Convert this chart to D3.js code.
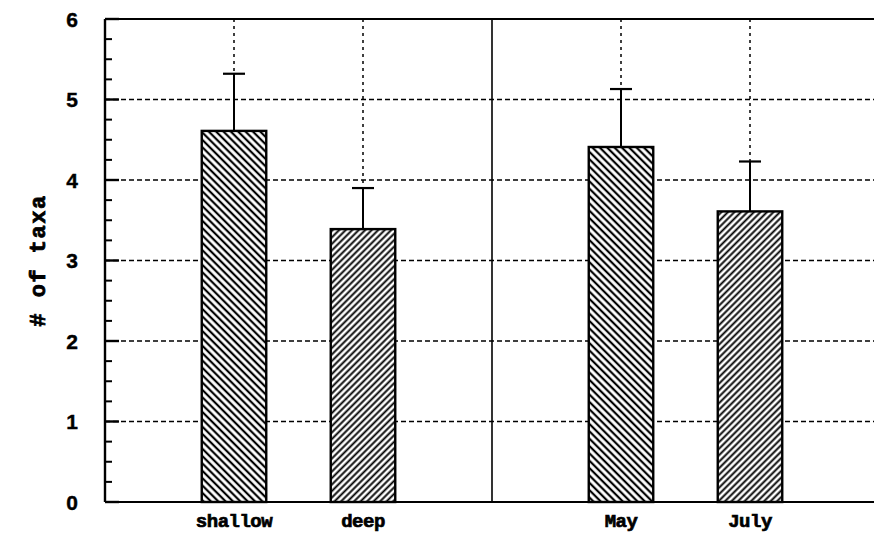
<!DOCTYPE html>
<html><head><meta charset="utf-8">
<script src="https://cdn.jsdelivr.net/npm/d3@7"></script>
<style>body{margin:0;background:#fff}</style>
</head><body>
<svg id="c" width="874" height="533"></svg>
<script>
const categories = ["shallow", "deep", "May", "July"];
const positions = [1, 2, 4, 5];
const means = [4.61, 3.39, 4.41, 3.61];
const errTops = [5.32, 3.90, 5.13, 4.23];
const hatchDir = ["back", "fwd", "back", "fwd"];
const yTicks = [0, 1, 2, 3, 4, 5, 6];
const dividerPos = [3];

const svg = d3.select("#c");
const L = 105, T = 19, B = 502, R = 879;
const x = d3.scaleLinear().domain([0, 6]).range([L, R]);
const y = d3.scaleLinear().domain([0, 6]).range([B, T]);

const defs = svg.append("defs");
function hatch(id, angle, period, sw) {
  const p = defs.append("pattern").attr("id", id).attr("patternUnits", "userSpaceOnUse")
    .attr("width", period).attr("height", period).attr("patternTransform", `rotate(${angle})`);
  p.append("rect").attr("width", period).attr("height", period).attr("fill", "#fff");
  p.append("line").attr("x1", period/2).attr("x2", period/2).attr("y1", 0).attr("y2", period)
    .attr("stroke", "#000").attr("stroke-width", sw);
}
hatch("back", -45, 5.2, 2.2);
hatch("fwd", 45, 4.6, 1.9);

// horizontal grid
svg.append("g").selectAll("line").data(yTicks.filter(d => d > 0 && d < 6)).join("line")
  .attr("x1", L).attr("x2", 874).attr("y1", d => y(d)).attr("y2", d => y(d))
  .attr("stroke", "#000").attr("stroke-width", 1.7).attr("stroke-dasharray", "5,3");
// vertical grid
svg.append("g").selectAll("line").data(positions).join("line")
  .attr("x1", d => x(d)).attr("x2", d => x(d)).attr("y1", T).attr("y2", B)
  .attr("stroke", "#000").attr("stroke-width", 1.5).attr("stroke-dasharray", "3,4");

// divider
svg.append("g").selectAll("line").data(dividerPos).join("line")
  .attr("x1", d => x(d)).attr("x2", d => x(d)).attr("y1", T).attr("y2", B)
  .attr("stroke", "#000").attr("stroke-width", 1.6);

// error bars
const eb = svg.append("g");
eb.selectAll("line.v").data(categories).join("line").attr("class", "v")
  .attr("x1", (d, i) => x(positions[i])).attr("x2", (d, i) => x(positions[i]))
  .attr("y1", (d, i) => y(means[i])).attr("y2", (d, i) => y(errTops[i]))
  .attr("stroke", "#000").attr("stroke-width", 2);
eb.selectAll("line.c").data(categories).join("line").attr("class", "c")
  .attr("x1", (d, i) => x(positions[i]) - 11).attr("x2", (d, i) => x(positions[i]) + 11)
  .attr("y1", (d, i) => y(errTops[i])).attr("y2", (d, i) => y(errTops[i]))
  .attr("stroke", "#000").attr("stroke-width", 2.2);

// bars
const bw = (x(1) - x(0)) * 0.5;
svg.append("g").selectAll("rect").data(categories).join("rect")
  .attr("x", (d, i) => x(positions[i]) - bw/2).attr("width", bw)
  .attr("y", (d, i) => y(means[i])).attr("height", (d, i) => y(0) - y(means[i]))
  .attr("fill", (d, i) => `url(#${hatchDir[i]})`).attr("stroke", "#000").attr("stroke-width", 2.4);

// frame: left axis, top, bottom
svg.append("line").attr("x1", L).attr("x2", L).attr("y1", T).attr("y2", B).attr("stroke", "#000").attr("stroke-width", 2.4);
svg.append("line").attr("x1", L).attr("x2", 874).attr("y1", T).attr("y2", T).attr("stroke", "#000").attr("stroke-width", 2.2);
svg.append("line").attr("x1", L).attr("x2", 874).attr("y1", B).attr("y2", B).attr("stroke", "#000").attr("stroke-width", 2.2);

// minor ticks (inside)
const minor = d3.range(0, 6.001, 0.25).filter(v => Math.abs(v - Math.round(v)) > 0.01);
svg.append("g").selectAll("line").data(minor).join("line")
  .attr("x1", L).attr("x2", L + 7).attr("y1", d => y(d)).attr("y2", d => y(d))
  .attr("stroke", "#000").attr("stroke-width", 2);
svg.append("g").selectAll("line").data(yTicks).join("line")
  .attr("x1", L).attr("x2", L + 14).attr("y1", d => y(d)).attr("y2", d => y(d))
  .attr("stroke", "#000").attr("stroke-width", 2.4);

// y tick labels
svg.append("g").selectAll("text").data(yTicks).join("text")
  .attr("x", 78).attr("y", d => y(d)).attr("dy", "0.36em").attr("text-anchor", "end")
  .attr("font-family", "Liberation Sans, Arial, sans-serif").attr("font-weight", "bold")
  .attr("font-size", 21).attr("stroke", "#000").attr("stroke-width", 0.4).text(d => d);

// category labels
svg.append("g").selectAll("text").data(categories).join("text")
  .attr("x", (d, i) => x(positions[i])).attr("y", 527).attr("text-anchor", "middle")
  .attr("font-family", "Liberation Mono, Courier New, monospace").attr("font-weight", "bold")
  .attr("font-size", 19).attr("letter-spacing", -0.5)
  .attr("stroke", "#000").attr("stroke-width", 0.7).text(d => d);

// y axis title
svg.append("text").attr("transform", `translate(45,${(T + B) / 2}) rotate(-90)`)
  .attr("text-anchor", "middle")
  .attr("font-family", "Liberation Mono, Courier New, monospace").attr("font-weight", "bold")
  .attr("font-size", 22).attr("letter-spacing", 1.5)
  .attr("stroke", "#000").attr("stroke-width", 0.8).text("# of taxa");
</script>
</body></html>
